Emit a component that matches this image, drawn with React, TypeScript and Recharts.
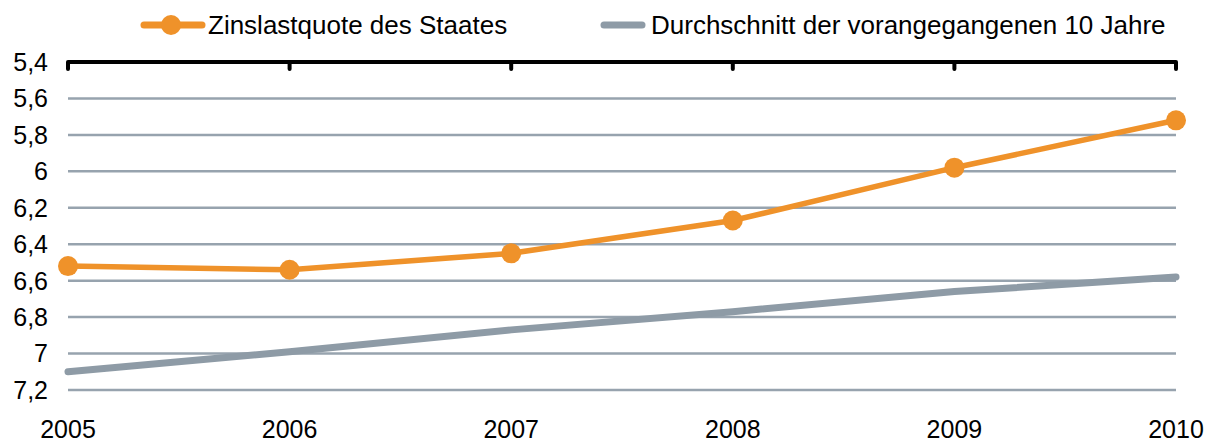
import {CartesianGrid, Legend, Line, LineChart, XAxis, YAxis} from 'recharts'

const years = ['2005', '2006', '2007', '2008', '2009', '2010']
const zinslastquote = [6.52, 6.54, 6.45, 6.27, 5.98, 5.72]
const durchschnitt = [7.1, 6.99, 6.87, 6.77, 6.66, 6.58]
const yTicks = [5.4, 5.6, 5.8, 6, 6.2, 6.4, 6.6, 6.8, 7, 7.2]

const seriesLabels = ['Zinslastquote des Staates', 'Durchschnitt der vorangegangenen 10 Jahre']

const ORANGE = '#EF922A'
const GREY = '#8E9BA6'
const GRID = '#97A3AE'
const FONT = '"Liberation Sans", Arial, sans-serif'

const data = years.map((year, i) => ({
    year,
    zins: zinslastquote[i],
    avg: durchschnitt[i],
}))

function ChartLegend() {
    return (
        <div style={{position: 'relative', width: 1206, height: 50, fontFamily: FONT, fontSize: 26, color: '#000'}}>
            <div style={{position: 'absolute', left: 140, top: 0, height: 50, display: 'flex', alignItems: 'center'}}>
                <svg width={66} height={24} style={{marginRight: 2}}>
                    <line x1={4} y1={12} x2={62} y2={12} stroke={ORANGE} strokeWidth={7} strokeLinecap="round"/>
                    <circle cx={31} cy={12} r={10} fill={ORANGE}/>
                </svg>
                <span>{seriesLabels[0]}</span>
            </div>
            <div style={{position: 'absolute', left: 600, top: 0, height: 50, display: 'flex', alignItems: 'center'}}>
                <svg width={46} height={24} style={{marginRight: 5}}>
                    <line x1={4} y1={12} x2={42} y2={12} stroke={GREY} strokeWidth={7} strokeLinecap="round"/>
                </svg>
                <span>{seriesLabels[1]}</span>
            </div>
        </div>
    )
}

// top axis: thick black line with tick marks pointing down, labels hidden
const NoLabel = () => <g/>

export default function App() {
    return (
        <div style={{position: 'absolute', left: 0, top: 0, width: 1206, height: 442, background: '#fff'}}>
            <LineChart width={1206} height={442} data={data} margin={{top: 12, right: 30, bottom: 0, left: 0}}>
                <CartesianGrid vertical={false} stroke={GRID} strokeWidth={2.5}/>
                <Legend
                    verticalAlign="top"
                    content={() => <ChartLegend/>}
                    wrapperStyle={{top: 0, left: 0, width: 1206, height: 50}}
                />
                <XAxis
                    xAxisId="top"
                    dataKey="year"
                    orientation="top"
                    mirror
                    tick={NoLabel}
                    tickSize={7}
                    interval={0}
                    axisLine={{stroke: '#000', strokeWidth: 4}}
                    tickLine={{stroke: '#000', strokeWidth: 4, strokeLinecap: 'round'}}
                />
                <XAxis
                    xAxisId="bottom"
                    dataKey="year"
                    orientation="bottom"
                    height={52}
                    axisLine={false}
                    tickLine={false}
                    tickSize={0}
                    tickMargin={30}
                    tick={{fill: '#000', fontSize: 25, fontFamily: FONT}}
                    interval={0}
                />
                <YAxis
                    type="number"
                    domain={[5.4, 7.2]}
                    ticks={yTicks}
                    reversed
                    width={68}
                    axisLine={false}
                    tickLine={false}
                    tickSize={0}
                    tickMargin={20}
                    tickFormatter={(v: number) => String(v).replace('.', ',')}
                    tick={{fill: '#000', fontSize: 25, fontFamily: FONT}}
                    interval={0}
                />
                <Line
                    xAxisId="bottom"
                    type="linear"
                    dataKey="avg"
                    name={seriesLabels[1]}
                    stroke={GREY}
                    strokeWidth={7}
                    strokeLinecap="round"
                    dot={false}
                    activeDot={false}
                    isAnimationActive={false}
                />
                <Line
                    xAxisId="top"
                    type="linear"
                    dataKey="zins"
                    name={seriesLabels[0]}
                    stroke={ORANGE}
                    strokeWidth={5.5}
                    dot={{r: 10, fill: ORANGE, stroke: ORANGE, strokeWidth: 0}}
                    activeDot={false}
                    isAnimationActive={false}
                />
            </LineChart>
        </div>
    )
}
